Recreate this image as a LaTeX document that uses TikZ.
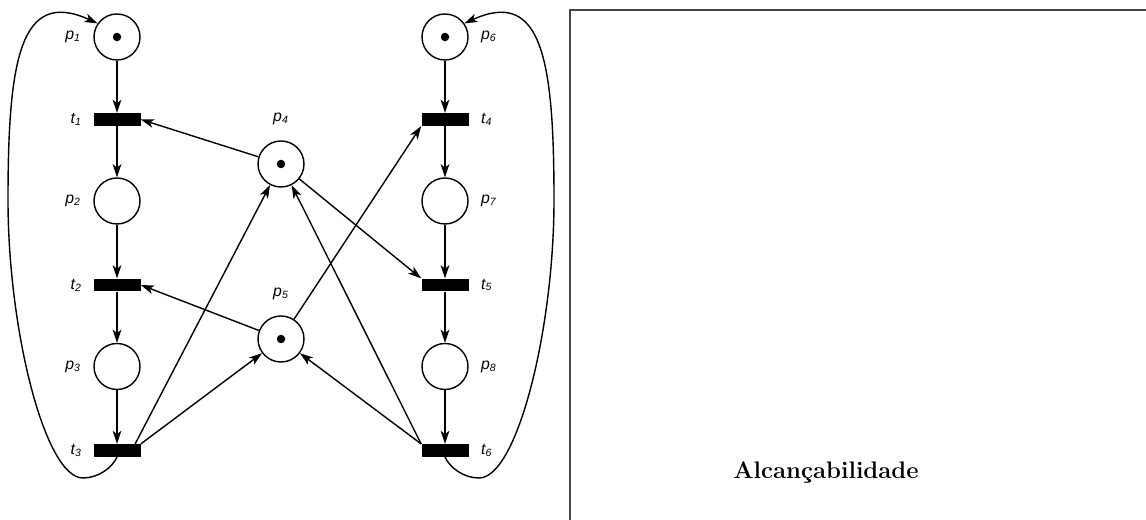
\documentclass[tikz,border=0pt]{standalone}
\usepackage{fontspec}
\usepackage{tikz}
\usetikzlibrary{arrows.meta, positioning, calc}
\newfontfamily\lblfont{Liberation Sans}
\definecolor{framegray}{RGB}{70,70,70}
\tikzset{
  place/.style={circle, draw, fill=white, line width=0.8pt,
    minimum size=0.92cm, inner sep=0pt},
  trans/.style={rectangle, fill=black, draw=none,
    minimum width=0.94cm, minimum height=0.25cm, inner sep=0pt},
  token/.style={circle, fill=black, minimum size=0.17cm, inner sep=0pt},
  lbl/.style={font=\lblfont\itshape\small, inner sep=0pt},
  arc/.style={-{Stealth[length=7.5pt, width=5pt, inset=2pt]}, line width=0.8pt},
  backarc/.style={-{Stealth[length=7.5pt, width=5pt, inset=2pt]}, line width=0.8pt}
}

\begin{document}
\begin{tikzpicture}
  \useasboundingbox (0,0) rectangle (22.92,10.4);

  % Left column
  \node[place] (p1) at (2.34, 9.66) {};
  \node[trans] (t1) at (2.34, 8.01) {};
  \node[place] (p2) at (2.34, 6.38) {};
  \node[trans] (t2) at (2.34, 4.70) {};
  \node[place] (p3) at (2.34, 3.07) {};
  \node[trans] (t3) at (2.34, 1.39) {};

  % Middle places
  \node[place] (p4) at (5.62, 7.12) {};
  \node[place] (p5) at (5.62, 3.62) {};

  % Right column
  \node[place] (p6) at (8.90, 9.66) {};
  \node[trans] (t4) at (8.90, 8.01) {};
  \node[place] (p7) at (8.90, 6.38) {};
  \node[trans] (t5) at (8.90, 4.70) {};
  \node[place] (p8) at (8.90, 3.07) {};
  \node[trans] (t6) at (8.90, 1.39) {};

  % Tokens
  \node[token] (k1) at (p1) {};
  \node[token] (k4) at (p4) {};
  \node[token] (k5) at (p5) {};
  \node[token] (k6) at (p6) {};

  % Labels
  \node[lbl, left=0.24cm of p1] (lp1) {p\textsubscript{1}};
  \node[lbl, left=0.22cm of t1] (lt1) {t\textsubscript{1}};
  \node[lbl, left=0.24cm of p2] (lp2) {p\textsubscript{2}};
  \node[lbl, left=0.22cm of t2] (lt2) {t\textsubscript{2}};
  \node[lbl, left=0.24cm of p3] (lp3) {p\textsubscript{3}};
  \node[lbl, left=0.22cm of t3] (lt3) {t\textsubscript{3}};
  \node[lbl, above=0.3cm of p4] (lp4) {p\textsubscript{4}};
  \node[lbl, above=0.3cm of p5] (lp5) {p\textsubscript{5}};
  \node[lbl, right=0.24cm of p6] (lp6) {p\textsubscript{6}};
  \node[lbl, right=0.24cm of t4] (lt4) {t\textsubscript{4}};
  \node[lbl, right=0.24cm of p7] (lp7) {p\textsubscript{7}};
  \node[lbl, right=0.24cm of t5] (lt5) {t\textsubscript{5}};
  \node[lbl, right=0.24cm of p8] (lp8) {p\textsubscript{8}};
  \node[lbl, right=0.24cm of t6] (lt6) {t\textsubscript{6}};

  % Column arcs
  \draw[arc] (p1) -- (t1);
  \draw[arc] (t1) -- (p2);
  \draw[arc] (p2) -- (t2);
  \draw[arc] (t2) -- (p3);
  \draw[arc] (p3) -- (t3);
  \draw[arc] (p6) -- (t4);
  \draw[arc] (t4) -- (p7);
  \draw[arc] (p7) -- (t5);
  \draw[arc] (t5) -- (p8);
  \draw[arc] (p8) -- (t6);

  % Cross arcs
  \draw[arc] (p4) -- (t1.east);
  \draw[arc] (p4) -- (t5.north west);
  \draw[arc] (p5) -- (t2.east);
  \draw[arc] (p5) -- (t4.south west);
  \draw[arc] (t3.20) -- (p4);
  \draw[arc] (t3.north east) -- (p5);
  \draw[arc] (t6.north west) -- (p4);
  \draw[arc] (t6.north west) -- (p5);

  % Return arcs
  \draw[backarc] (t3.south) .. controls (2.24,1.04) and (1.96,0.84) .. (1.66,0.84)
    .. controls (0.9,0.84) and (0.16,3.8) .. (0.16,6.4)
    .. controls (0.16,9.2) and (0.4,10.64) .. (p1.145);
  \draw[backarc] (t6.south) .. controls (9.0,1.04) and (9.28,0.84) .. (9.58,0.84)
    .. controls (10.34,0.84) and (11.08,3.8) .. (11.08,6.4)
    .. controls (11.08,9.2) and (10.84,10.64) .. (p6.35);

  % Frame
  \draw[framegray, line width=0.6pt] (11.4,0) -- (11.4,10.2) -- (22.92,10.2);
  \node[font=\fontsize{13.6}{16}\selectfont\bfseries] (title) at (16.52, 0.94) {Alcançabilidade};
\end{tikzpicture}
\end{document}
